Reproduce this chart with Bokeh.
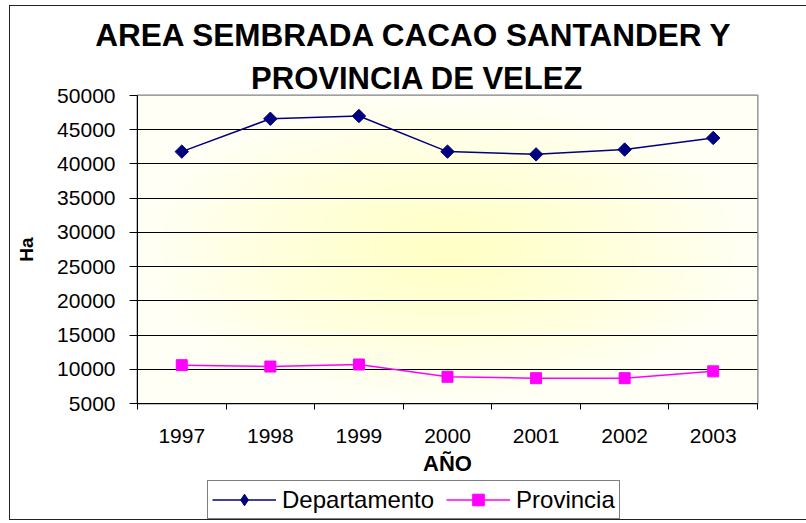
import numpy as np
from bokeh.plotting import figure
from bokeh.layouts import column
from bokeh.models import (FixedTicker, Range1d, Legend, LegendItem, Title, InlineStyleSheet)
from bokeh.embed import file_html
from bokeh.resources import INLINE

# ---- data ----
years = ["1997", "1998", "1999", "2000", "2001", "2002", "2003"]
departamento = [41800, 46600, 47000, 41800, 41400, 42100, 43800]
provincia = [10600, 10400, 10700, 8900, 8700, 8700, 9700]
y_ticks = [5000, 10000, 15000, 20000, 25000, 30000, 35000, 40000, 45000, 50000]
title_lines = ["AREA SEMBRADA CACAO SANTANDER Y", "PROVINCIA DE VELEZ"]
series_names = ["Departamento", "Provincia"]
x_title = "AÑO"
y_title = "Ha"

FONT = "Liberation Sans"
NAVY = "#000080"
MAGENTA = "#FF00FF"
xs = list(range(1, len(years) + 1))

frame_css = InlineStyleSheet(css="""
:host::after {
  content: "";
  position: absolute;
  left: 9px; top: 5px; width: 797px; height: 515px;
  border: 1.5px solid #222222; border-right: none;
  box-sizing: border-box;
  pointer-events: none;
}
""")

p = figure(width=806, height=480, output_backend="svg", toolbar_location=None,
           x_range=Range1d(0.5, len(years) + 0.5), y_range=Range1d(y_ticks[0], y_ticks[-1]),
           min_border_left=137, min_border_right=49, min_border_top=95, min_border_bottom=77)
p.background_fill_color = "white"
p.border_fill_color = "white"
p.outline_line_color = "#808080"
p.outline_line_width = 2

# radial yellow->white background gradient
nx, ny = 200, 120
gx, gy = np.meshgrid(np.linspace(-1, 1, nx), np.linspace(-1, 1, ny))
t = np.clip(np.sqrt(gx**2 + gy**2), 0, 1) ** 1.2
img = np.empty((ny, nx), dtype=np.uint32)
v = img.view(dtype=np.uint8).reshape((ny, nx, 4))
v[:, :, 0] = 255
v[:, :, 1] = 255
v[:, :, 2] = (198 + (246 - 198) * t).astype(np.uint8)
v[:, :, 3] = 255
p.image_rgba(image=[img], x=0.5, y=y_ticks[0], dw=len(years), dh=y_ticks[-1] - y_ticks[0], level="image")

# series
p.line(xs, departamento, line_color=NAVY, line_width=1.5)
p.scatter(xs, departamento, marker="square", angle=np.pi / 4, size=9.5,
          fill_color=NAVY, line_color=NAVY)
p.line(xs, provincia, line_color=MAGENTA, line_width=1.5)
p.scatter(xs, provincia, marker="square", size=11, fill_color=MAGENTA, line_color=MAGENTA)

# axes
p.xaxis.ticker = FixedTicker(ticks=xs, minor_ticks=[x - 0.5 for x in xs] + [len(years) + 0.5])
p.xaxis.major_label_overrides = {x: y for x, y in zip(xs, years)}
p.xaxis.major_tick_out = 0
p.xaxis.major_tick_in = 0
p.xaxis.minor_tick_out = 6
p.xaxis.minor_tick_in = 0
p.xaxis.minor_tick_line_color = "black"
p.xaxis.major_label_standoff = 19
p.xaxis.axis_label = x_title
p.xaxis.axis_label_standoff = 5

p.yaxis.ticker = FixedTicker(ticks=y_ticks)
p.yaxis.major_label_overrides = {t_: str(t_) for t_ in y_ticks}
p.yaxis.major_tick_out = 8
p.yaxis.major_tick_in = 0
p.yaxis.minor_tick_line_color = None
p.yaxis.major_label_standoff = 14
p.yaxis.axis_label = y_title
p.yaxis.axis_label_standoff = 17

for ax in (p.xaxis[0], p.yaxis[0]):
    ax.axis_line_color = "black"
    ax.major_label_text_font = FONT
    ax.major_label_text_font_size = "21px"
    ax.major_label_text_color = "black"
    ax.axis_label_text_font = FONT
    ax.axis_label_text_font_style = "bold"
    ax.axis_label_text_color = "black"
p.xaxis.major_tick_line_color = None
p.yaxis.major_tick_line_color = "black"
p.xaxis.axis_label_text_font_size = "22px"
p.yaxis.axis_label_text_font_size = "19px"

p.xgrid.grid_line_color = None
p.ygrid.ticker = FixedTicker(ticks=y_ticks[1:-1])
p.ygrid.grid_line_color = "black"
p.ygrid.grid_line_width = 1

# two-line title (closest line added first), right-aligned with offsets
for txt, off, so, fs in [(title_lines[1], 174, 0, "31px"), (title_lines[0], 24, 11, "31.5px")]:
    p.add_layout(Title(text=txt, align="right", offset=off, standoff=so,
                       text_font=FONT, text_font_size=fs, text_font_style="bold",
                       text_color="black"), "above")

# legend strip as a separate small figure below (its frame aligns with the main frame)
lg = figure(width=806, height=43, output_backend="svg", toolbar_location=None,
            x_range=Range1d(0, 1), y_range=Range1d(0, 1),
            x_axis_location=None, y_axis_location=None,
            min_border_left=0, min_border_right=0, min_border_top=0, min_border_bottom=0)
lg.grid.visible = False
lg.outline_line_color = None
lg.background_fill_color = "white"
lg.border_fill_color = "white"
# legend keys: same styles, data placed outside the visible range
ll1 = lg.line([5, 6], [5, 6], line_color=NAVY, line_width=1.5)
ls1 = lg.scatter([5], [5], marker="diamond", size=12, fill_color=NAVY, line_color=NAVY)
ll2 = lg.line([5, 6], [5, 6], line_color=MAGENTA, line_width=1.5)
ls2 = lg.scatter([5], [5], marker="square", size=11, fill_color=MAGENTA, line_color=MAGENTA)

legend = Legend(items=[LegendItem(label=series_names[0], renderers=[ll1, ls1]),
                       LegendItem(label=series_names[1], renderers=[ll2, ls2])],
                orientation="horizontal", location=(70, 4))
legend.label_text_font = FONT
legend.label_text_font_size = "24px"
legend.label_text_color = "black"
legend.glyph_width = 64
legend.glyph_height = 29
legend.label_height = 21
legend.label_standoff = 6
legend.spacing = 12
legend.padding = 4
legend.margin = 0
legend.border_line_color = "black"
legend.border_line_width = 1
legend.background_fill_color = "white"
legend.background_fill_alpha = 1
lg.add_layout(legend, "center")

layout = column(p, lg, spacing=0, stylesheets=[frame_css])

open("out.html", "w").write(file_html(layout, INLINE))
